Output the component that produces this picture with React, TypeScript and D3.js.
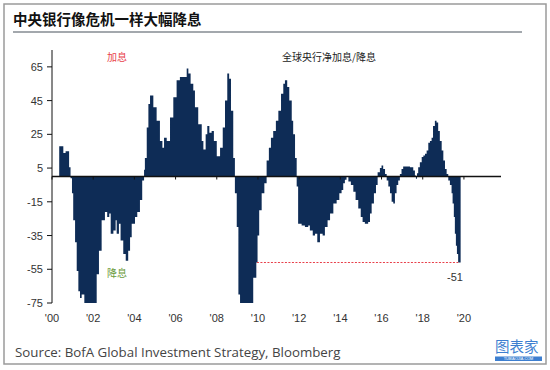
import React from "react";
import * as d3 from "d3";

// step breakpoints: [decimal year, net hikes minus cuts]
const years = [
  2000.35, 2000.55, 2000.66, 2000.83, 2000.9, 2000.97, 2001.03, 2001.12, 2001.2, 2001.28,
  2001.36, 2001.44, 2001.57, 2002.17, 2002.28, 2002.41, 2002.57, 2002.68, 2002.78, 2002.85,
  2002.98, 2003.09, 2003.14, 2003.25, 2003.33, 2003.46, 2003.58, 2003.7, 2003.79, 2003.87,
  2004.03, 2004.14, 2004.27, 2004.38, 2004.47, 2004.51, 2004.6, 2004.68, 2004.76, 2004.92,
  2005.08, 2005.24, 2005.36, 2005.44, 2005.57, 2005.73, 2005.89, 2006.05, 2006.21, 2006.54,
  2006.62, 2006.73, 2006.86, 2006.94, 2007.1, 2007.27, 2007.35, 2007.46, 2007.54, 2007.64,
  2007.75, 2007.86, 2008.0, 2008.16, 2008.29, 2008.4, 2008.51, 2008.6, 2008.69, 2008.8,
  2008.88, 2008.97, 2009.05, 2009.13, 2009.77, 2009.92, 2009.98, 2010.06, 2010.18, 2010.31,
  2010.42, 2010.53, 2010.63, 2010.74, 2010.87, 2010.99, 2011.12, 2011.23, 2011.31, 2011.42,
  2011.52, 2011.64, 2011.71, 2011.8, 2011.88, 2011.95, 2012.12, 2012.28, 2012.44, 2012.52,
  2012.66, 2012.77, 2012.88, 2013.01, 2013.14, 2013.25, 2013.38, 2013.5, 2013.66, 2013.82,
  2013.95, 2014.06, 2014.14, 2014.22, 2014.3, 2014.39, 2014.51, 2014.63, 2014.74, 2014.87,
  2014.99, 2015.08, 2015.19, 2015.35, 2015.44, 2015.52, 2015.63, 2015.73, 2015.81, 2015.92,
  2016.0, 2016.08, 2016.17, 2016.25, 2016.33, 2016.41, 2016.49, 2016.57, 2016.65, 2016.73,
  2016.81, 2016.89, 2016.97, 2017.05, 2017.38, 2017.54, 2017.62, 2017.67, 2017.72, 2017.78,
  2017.86, 2017.95, 2018.03, 2018.11, 2018.19, 2018.27, 2018.35, 2018.43, 2018.5, 2018.59,
  2018.67, 2018.75, 2018.83, 2018.92, 2019.0, 2019.08, 2019.16, 2019.24, 2019.32, 2019.4,
  2019.45, 2019.51, 2019.56, 2019.61, 2019.66, 2019.72, 2019.84,
];
const netHikes = [
  18, 14, 15, 5.5, -1, -10, -26, -39, -56, -68,
  -72, -70, -75, -58, -44, -26, -21, -24, -22, -34,
  -32, -26, -34, -28, -38, -46, -50, -44, -36, -28,
  -24, -21, -14, -2.4, 4, 11, 29, 43, 48, 41,
  33, 21, 17, 23, 21, 35, 47, 57, 59, 64,
  61, 55, 51, 41, 31, 21, 16, 25, 30, 26,
  27, 21, 12, 17, 29, 45, 61, 58, 39, 11,
  -10, -30, -70, -75, -60, -51, -35, -20, -10, -4,
  9.5, 17, 23, 27, 33, 39, 49, 55, 57, 53,
  45, 33, 25, 11, -6, -28, -29, -30, -29, -32,
  -35, -34, -39, -34, -35, -30, -26, -22, -16, -14,
  -10, -8, -4, -2, 0, -3, -5, -9, -14, -19,
  -24, -27, -28, -27, -22, -16, -10, -5, 2.5, 5,
  6.5, 4.5, 1.5, -2.4, -6, -10, -15, -16, -10, -5,
  -2.4, 1.5, 4.5, 6, 5.5, 3.6, 0.6, -1.4, 2, 5.5,
  8.5, 11.5, 12.5, 13.5, 15.4, 20, 21, 23, 30, 33,
  32, 27, 21, 15.4, 9.5, 4.5, 1.5, -2.4, -5, -10,
  -16, -24, -34, -41, -46, -51, -51,
];

const yTicks = [65, 45, 25, 5, -15, -35, -55, -75];
const xTicks = [2000, 2002, 2004, 2006, 2008, 2010, 2012, 2014, 2016, 2018, 2020];
const latest = -51;
const troughFrom = 2009.95;

const title = "中央银行像危机一样大幅降息";
const seriesName = "全球央行净加息/降息";
const source = "Source: BofA Global Investment Strategy, Bloomberg";

export default function App() {
  const x = d3.scaleLinear().domain([2000, 2021.8]).range([52, 501]);
  const y = d3.scaleLinear().domain([-75, 75]).range([303, 50]);

  const points: [number, number][] = years.map((t, i) => [t, netHikes[i]]);
  const area = d3
    .area<[number, number]>()
    .x((d) => x(d[0]))
    .y0(y(0))
    .y1((d) => y(d[1]))
    .curve(d3.curveStepAfter);

  const axisFont = "'Liberation Sans', Arial, sans-serif";

  return (
    <svg
      width={550}
      height={370}
      style={{ position: "absolute", left: 0, top: 0, background: "#fff" }}
    >
      <rect x={4} y={4} width={542} height={360} fill="#fff" stroke="#9a9a9a" strokeWidth={1.5} />

      <text x={13} y={25} fontSize={14.5} fontWeight="bold" fill="#111"
        fontFamily="'Noto Sans CJK SC', sans-serif">{title}</text>
      <line x1={13} x2={522} y1={32} y2={32} stroke="#a3a8ad" strokeWidth={2} />

      <path d={area(points) ?? ""} fill="#0e2c56" />

      <line x1={52} x2={501} y1={y(0)} y2={y(0)} stroke="#111" strokeWidth={1.5} />
      {xTicks.map((t) => (
        <g key={t}>
          <line x1={x(t)} x2={x(t)} y1={y(0)} y2={y(0) + 3} stroke="#111" />
          <text x={x(t)} y={322} textAnchor="middle" fontSize={11} fill="#333" fontFamily={axisFont}>
            {"'" + String(t % 100).padStart(2, "0")}
          </text>
        </g>
      ))}

      <line x1={52} x2={52} y1={y(75)} y2={y(-75)} stroke="#111" strokeWidth={1} />
      {yTicks.map((v) => (
        <g key={v}>
          <line x1={47} x2={52} y1={y(v)} y2={y(v)} stroke="#111" />
          <text x={43} y={y(v) + 4} textAnchor="end" fontSize={11} fill="#333" fontFamily={axisFont}>
            {v}
          </text>
        </g>
      ))}

      <line x1={x(troughFrom)} x2={x(2019.72)} y1={y(latest)} y2={y(latest)}
        stroke="#e8404a" strokeWidth={1.2} strokeDasharray="2,1.5" />
      <text x={455} y={281} textAnchor="middle" fontSize={11} fill="#333" fontFamily={axisFont}>
        {latest}
      </text>

      <text x={117} y={61} textAnchor="middle" fontSize={10} fill="#e8404a"
        fontFamily="'Noto Sans CJK SC', sans-serif">加息</text>
      <text x={117} y={277} textAnchor="middle" fontSize={10} fill="#6a9a3a"
        fontFamily="'Noto Sans CJK SC', sans-serif">降息</text>
      <text x={282} y={61} fontSize={10} fill="#222"
        fontFamily="'Noto Sans CJK SC', sans-serif">{seriesName}</text>

      <text x={15} y={357} fontSize={13.3} fill="#444" fontFamily="'Open Sans', sans-serif">
        {source}
      </text>

      <text x={495} y={352} fontSize={14.5} fill="#3d7fd0"
        fontFamily="'Noto Sans CJK SC', sans-serif">图表家</text>
      <rect x={495} y={356.5} width={47} height={4.5} fill="#3d7fd0" />
      <text x={518.5} y={360.2} textAnchor="middle" fontSize={3.8} fill="#fff"
        fontFamily={axisFont}>TUBIAOJIA.COM</text>
    </svg>
  );
}
